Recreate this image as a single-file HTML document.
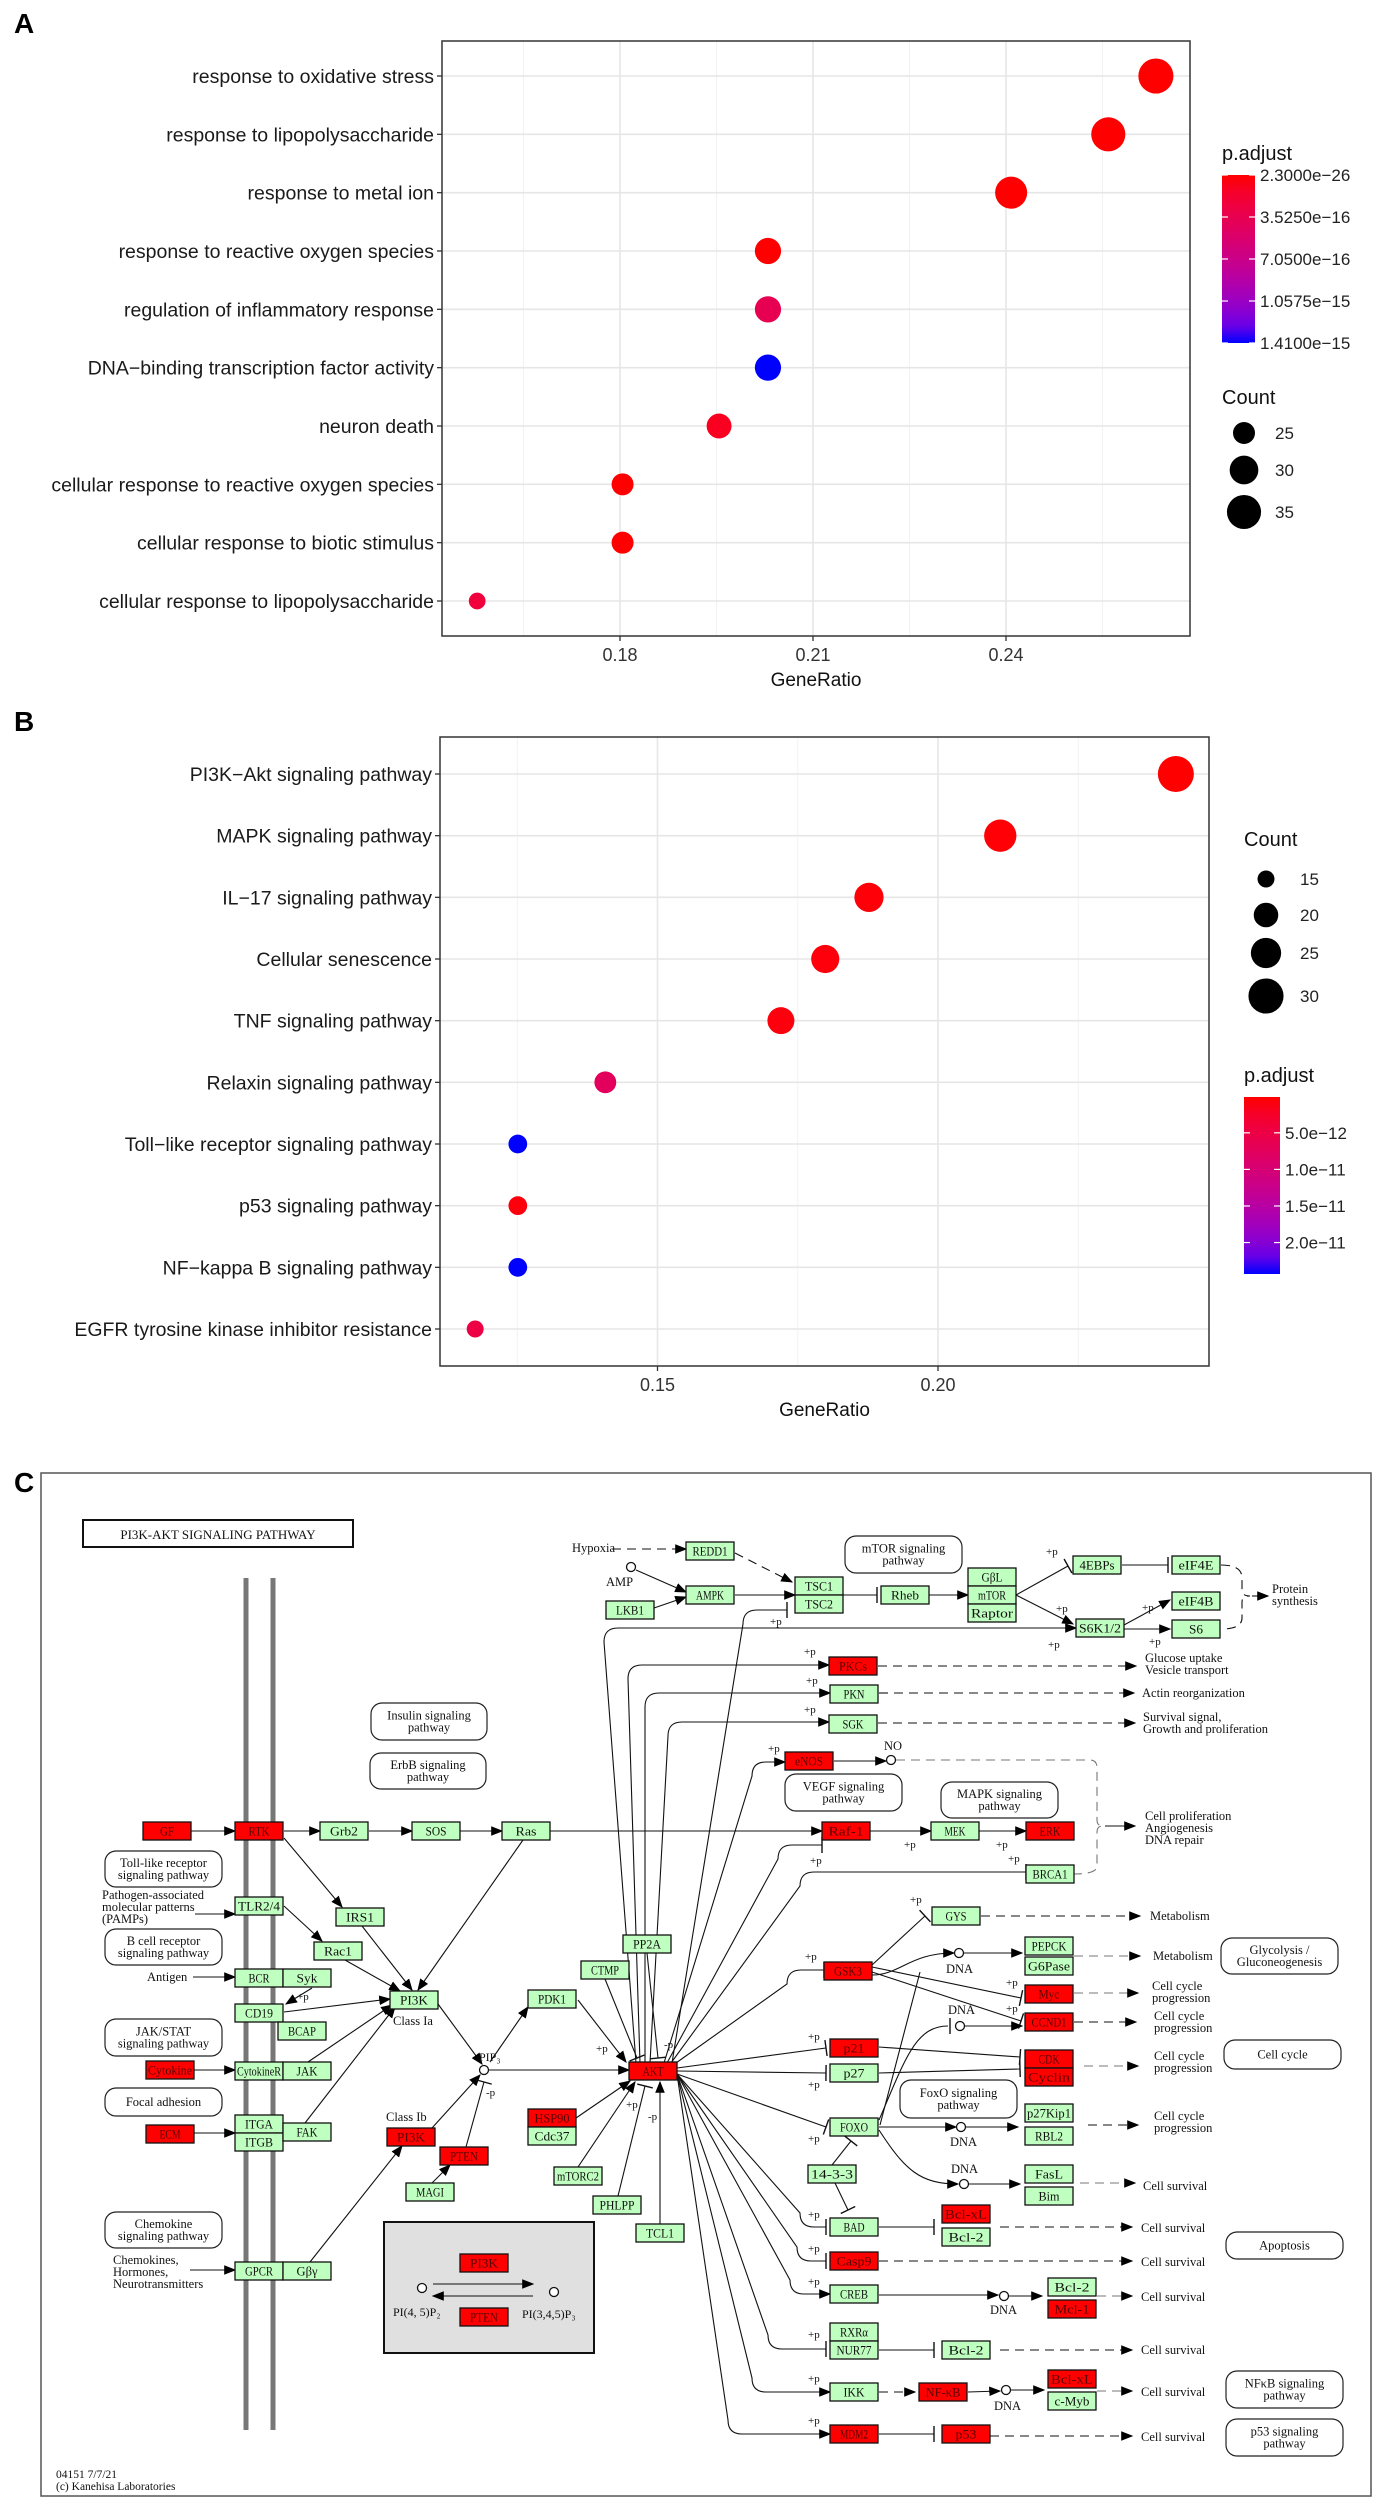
<!DOCTYPE html>
<html><head><meta charset="utf-8"><title>Enrichment dot plots and PI3K-Akt pathway</title>
<style>
html,body{margin:0;padding:0;background:#fff;}
svg{display:block;}
.sans{font-family:"Liberation Sans",Arial,sans-serif;}
.serif{font-family:"Liberation Serif","Times New Roman",serif;}
</style></head>
<body>
<svg id="fig" xmlns="http://www.w3.org/2000/svg" width="1377" height="2500" viewBox="0 0 1377 2500">
<defs>
<marker id="arr" viewBox="0 0 10 10" refX="9" refY="5" markerWidth="7" markerHeight="7" orient="auto-start-reverse" markerUnits="userSpaceOnUse"><path d="M0,0 L10,5 L0,10 z" fill="#000"/></marker>
<marker id="arrS" viewBox="0 0 10 10" refX="9" refY="5" markerWidth="12" markerHeight="12" orient="auto" markerUnits="userSpaceOnUse"><path d="M0,1 L10,5 L0,9 z" fill="#000"/></marker>
<linearGradient id="gradA" x1="0" y1="0" x2="0" y2="1"></linearGradient>
<linearGradient id="gradB" x1="0" y1="0" x2="0" y2="1"></linearGradient>
</defs>
<rect x="0" y="0" width="1377" height="2500" fill="#fff"/>
<text x="14" y="33" class="sans" font-size="28" font-weight="bold">A</text>
<text x="14" y="731" class="sans" font-size="28" font-weight="bold">B</text>
<text x="14" y="1492" class="sans" font-size="28" font-weight="bold">C</text>
<g id="chartA"></g>
<g id="chartB"></g>
<g id="diagram"></g>
</svg>
<script>
// ===== Chart A data =====
const termsA = ["response to oxidative stress","response to lipopolysaccharide","response to metal ion","response to reactive oxygen species","regulation of inflammatory response","DNA\u2212binding transcription factor activity","neuron death","cellular response to reactive oxygen species","cellular response to biotic stimulus","cellular response to lipopolysaccharide"];
const ratioA = [0.2633,0.2559,0.2408,0.2030,0.2030,0.2030,0.1954,0.1804,0.1804,0.1578];
const countA = [36,35,33,28,28,28,27,25,25,22];
const padjA = [2.3e-26,1e-20,1e-19,2e-18,3.6e-16,1.41e-15,1.0e-16,1e-18,1e-18,2.4e-16];
const ticksA = [0.18,0.21,0.24];
const tickLabelsA = ["0.18","0.21","0.24"];
const minorA = [0.165,0.195,0.225,0.255];
const legCountA = [25,30,35];
const legPA = ["2.3000e\u221226","3.5250e\u221216","7.0500e\u221216","1.0575e\u221215","1.4100e\u221215"];
const legPAval = [2.3e-26,3.525e-16,7.05e-16,1.0575e-15,1.41e-15];
// ===== Chart B data =====
const termsB = ["PI3K\u2212Akt signaling pathway","MAPK signaling pathway","IL\u221217 signaling pathway","Cellular senescence","TNF signaling pathway","Relaxin signaling pathway","Toll\u2212like receptor signaling pathway","p53 signaling pathway","NF\u2212kappa B signaling pathway","EGFR tyrosine kinase inhibitor resistance"];
const ratioB = [0.2424,0.2111,0.1877,0.1799,0.1720,0.1407,0.1251,0.1251,0.1251,0.1175];
const countB = [31,27,24,23,22,18,16,16,16,15];
const padjB = [1e-13,3e-13,4e-13,5e-13,6e-13,7.5e-12,2.43e-11,5e-13,2.43e-11,5e-12];
const ticksB = [0.15,0.20];
const tickLabelsB = ["0.15","0.20"];
const minorB = [0.125,0.175,0.225];
const legCountB = [15,20,25,30];
const legPB = ["5.0e\u221212","1.0e\u221211","1.5e\u221211","2.0e\u221211"];
const legPBval = [5e-12,1e-11,1.5e-11,2e-11];

const NS = "http://www.w3.org/2000/svg";
function mk(tag, parent, attrs, txt){
  const el = document.createElementNS(NS, tag);
  for (const k in attrs) el.setAttribute(k, attrs[k]);
  if (txt !== undefined) el.textContent = txt;
  parent.appendChild(el);
  return el;
}
function lin(c){c/=255;return c<=0.04045?c/12.92:Math.pow((c+0.055)/1.055,2.4);}
function unlin(c){c=c<=0.0031308?12.92*c:1.055*Math.pow(c,1/2.4)-0.055;return Math.max(0,Math.min(255,Math.round(c*255)));}
function toLab(r,g,b){r=lin(r);g=lin(g);b=lin(b);
  let X=(0.4124*r+0.3576*g+0.1805*b)/0.95047,Y=0.2126*r+0.7152*g+0.0722*b,Z=(0.0193*r+0.1192*g+0.9505*b)/1.08883;
  const f=t=>t>0.008856?Math.cbrt(t):7.787*t+16/116;
  const fx=f(X),fy=f(Y),fz=f(Z);return [116*fy-16,500*(fx-fy),200*(fy-fz)];}
function fromLab(L,a,b){const fy=(L+16)/116,fx=fy+a/500,fz=fy-b/200;
  const fi=t=>t>0.206893?t*t*t:(t-16/116)/7.787;
  const X=fi(fx)*0.95047,Y=fi(fy),Z=fi(fz)*1.08883;
  const r=3.2406*X-1.5372*Y-0.4986*Z,g=-0.9689*X+1.8758*Y+0.0415*Z,bb=0.0557*X-0.2040*Y+1.0570*Z;
  return "rgb("+unlin(r)+","+unlin(g)+","+unlin(bb)+")";}
const LR=toLab(255,0,0),LB=toLab(0,0,255);
function col(t){t=Math.max(0,Math.min(1,t));return fromLab(LR[0]+(LB[0]-LR[0])*t,LR[1]+(LB[1]-LR[1])*t,LR[2]+(LB[2]-LR[2])*t);}
function fillGrad(id){const g=document.getElementById(id);for(let i=0;i<=10;i++){mk("stop",g,{offset:(i/10),"stop-color":col(i/10)});}}
fillGrad("gradA");fillGrad("gradB");

function drawDot(cfg){
  const G=document.getElementById(cfg.gid);
  const {L,R,T,B}=cfg.box;
  const n=cfg.terms.length;
  const unit=(B-T)/(n-1+1.2);
  const y=i=>T+(0.6+i)*unit;
  const x=v=>cfg.x0+(v-cfg.v0)/cfg.dv*cfg.px;
  const rad=c=>Math.sqrt(Math.max(4,cfg.r2a+cfg.r2b*(c-cfg.c0)));
  const pmax=cfg.pmax,pmin=cfg.pmin;
  const tcol=p=>col((p-pmin)/(pmax-pmin));
  const bg=mk("rect",G,{x:L,y:T,width:R-L,height:B-T,fill:"#fff"});
  
  
  cfg.minor.forEach(v=>{const l=mk("line",G,{x1:x(v),x2:x(v),y1:T,y2:B,stroke:"#f2f2f2","stroke-width":1});
    
    });
  cfg.ticks.forEach(v=>{const l=mk("line",G,{x1:x(v),x2:x(v),y1:T,y2:B,stroke:"#e6e6e6","stroke-width":1.6});
    
    });
  cfg.terms.forEach((t,i)=>{const l=mk("line",G,{x1:L,x2:R,y1:y(i),y2:y(i),stroke:"#e6e6e6","stroke-width":1.6});
    
    
    const tk=mk("line",G,{x1:L-5,x2:L,y1:y(i),y2:y(i),stroke:"#333","stroke-width":1.3});
    
    
    const lb=mk("text",G,{x:L-8,y:y(i)+7,"text-anchor":"end","font-size":19.5,fill:"#1a1a1a",class:"sans"},t);
    
    });
  cfg.terms.forEach((t,i)=>{const c=mk("circle",G,{cx:x(cfg.ratio[i]),cy:y(i),r:rad(cfg.count[i]),fill:tcol(cfg.padj[i])});
    
    });
  const bx=mk("rect",G,{x:L,y:T,width:R-L,height:B-T,fill:"none",stroke:"#333","stroke-width":1.5});
  
  
  cfg.ticks.forEach((v,i)=>{const tk=mk("line",G,{x1:x(v),x2:x(v),y1:B,y2:B+5,stroke:"#333","stroke-width":1.3});
    
    
    const lb=mk("text",G,{x:x(v),y:B+25,"text-anchor":"middle","font-size":18,fill:"#333",class:"sans"},cfg.tickLabels[i]);
    
    });
  const xt=mk("text",G,{x:(L+R)/2,y:B+50,"text-anchor":"middle","font-size":19,fill:"#111",class:"sans"},"GeneRatio");
  
  
  const cl=cfg.colLeg;
  const ct=mk("text",G,{x:cl.x,y:cl.titleY,"font-size":20,fill:"#111",class:"sans"},"p.adjust");
  
  
  const cb=mk("rect",G,{x:cl.x,y:cl.top,width:cl.w,height:cl.bot-cl.top,fill:"url(#"+cl.grad+")"});
  
  
  cfg.legP.forEach((s,i)=>{const t=(cfg.legPval[i]-pmin)/(pmax-pmin);const yy=cl.top+t*(cl.bot-cl.top);
    const a=mk("line",G,{x1:cl.x,x2:cl.x+6,y1:yy,y2:yy,stroke:"#fff","stroke-width":1.2});
    
    
    const b=mk("line",G,{x1:cl.x+cl.w-6,x2:cl.x+cl.w,y1:yy,y2:yy,stroke:"#fff","stroke-width":1.2});
    
    
    const lb=mk("text",G,{x:cl.x+cl.w+5,y:yy+6,"font-size":17,fill:"#222",class:"sans"},s);
    
    });
  const sl=cfg.sizeLeg;
  const st=mk("text",G,{x:sl.titleX,y:sl.titleY,"font-size":20,fill:"#111",class:"sans"},"Count");
  
  
  cfg.legCount.forEach((c,i)=>{const yy=sl.ys[i];
    const d=mk("circle",G,{cx:sl.cx,cy:yy,r:rad(c),fill:"#000"});
    
    
    const lb=mk("text",G,{x:sl.lx,y:yy+6,"font-size":17,fill:"#222",class:"sans"},String(c));
    
    });
}
drawDot({gid:"chartA",box:{L:442,R:1190,T:41,B:636},terms:termsA,ratio:ratioA,count:countA,padj:padjA,
  x0:620,v0:0.18,dv:0.03,px:193,r2a:121,r2b:17,c0:25,pmin:2.3e-26,pmax:1.41e-15,
  ticks:ticksA,tickLabels:tickLabelsA,minor:minorA,legCount:legCountA,legP:legPA,legPval:legPAval,
  colLeg:{x:1222,w:33,top:175,bot:343,titleY:160,grad:"gradA"},
  sizeLeg:{titleX:1222,titleY:404,cx:1244,lx:1275,ys:[433,470,512]}});
drawDot({gid:"chartB",box:{L:440,R:1209,T:737,B:1366},terms:termsB,ratio:ratioB,count:countB,padj:padjB,
  x0:657.5,v0:0.15,dv:0.05,px:280.5,r2a:72,r2b:15.75,c0:15,pmin:1e-13,pmax:2.43e-11,
  ticks:ticksB,tickLabels:tickLabelsB,minor:minorB,legCount:legCountB,legP:legPB,legPval:legPBval,
  colLeg:{x:1244,w:36,top:1097,bot:1274,titleY:1082,grad:"gradB"},
  sizeLeg:{titleX:1244,titleY:846,cx:1266,lx:1300,ys:[879,915,953,996]}});

// ===== Pathway diagram =====
const D=document.getElementById("diagram");
function box(x,y,w,h,label,red,name){
  const r=mk("rect",D,{x:x,y:y,width:w,height:h,fill:red?"#ff0000":"#bfffbf",stroke:"#111","stroke-width":1.3});
  
  
  const t=mk("text",D,{x:x+w/2,y:y+h/2+4.5,"text-anchor":"middle","font-size":13,fill:red?"#5a0000":"#111",class:"serif",textLength:Math.min(w-4,label.length*7),lengthAdjust:"spacingAndGlyphs"},label);
  
  
}
function rbox(x,y,w,h,lines,name){
  const r=mk("rect",D,{x:x,y:y,width:w,height:h,rx:11,ry:11,fill:"#fff",stroke:"#222","stroke-width":1.2});
  
  
  const n=lines.length;
  lines.forEach((s,i)=>{const t=mk("text",D,{x:x+w/2,y:y+h/2+4+(i-(n-1)/2)*12,"text-anchor":"middle","font-size":12.5,fill:"#111",class:"serif"},s);
    
    });
}
function txt(x,y,s,size,anchor,name){
  const t=mk("text",D,{x:x,y:y,"font-size":size||12.5,"text-anchor":anchor||"start",fill:"#111",class:"serif"},s);
  
  
}
function path(d,opt,name){
  opt=opt||{};
  const a={d:d,fill:"none",stroke:opt.gray?"#777":"#111","stroke-width":opt.w||1.1};
  if(opt.dash) a["stroke-dasharray"]="9,6";
  if(opt.arrow) a["marker-end"]="url(#arrS)";
  const p=mk("path",D,a);
  
  
  return p;
}
function ln(x1,y1,x2,y2,opt,name){
  opt=opt||{};
  path("M"+x1+" "+y1+" L"+x2+" "+y2,opt,name);
  if(opt.tee){const dx=x2-x1,dy=y2-y1,L=Math.hypot(dx,dy),nx=-dy/L*8,ny=dx/L*8;
    path("M"+(x2+nx)+" "+(y2+ny)+" L"+(x2-nx)+" "+(y2-ny),{w:1.4},"inhibition-bar");}
}
function teeAt(x,y,vertical){ if(vertical) path("M"+x+" "+(y-8)+" L"+x+" "+(y+8),{w:1.4},"inhibition-bar"); else path("M"+(x-8)+" "+y+" L"+(x+8)+" "+y,{w:1.4},"inhibition-bar"); }
function circ(x,y,name){const c=mk("circle",D,{cx:x,cy:y,r:4.5,fill:"#fff",stroke:"#111","stroke-width":1.3});
  
  }

const fr=mk("rect",D,{x:41,y:1473,width:1330,height:1023,fill:"none",stroke:"#555","stroke-width":1.5});


const tb=mk("rect",D,{x:83,y:1520,width:270,height:27,fill:"#fff",stroke:"#111","stroke-width":2});


txt(218,1539,"PI3K-AKT  SIGNALING  PATHWAY",13,"middle","diagram-title");
path("M246 1578 L246 2430",{gray:true,w:5},"membrane-line");
path("M273 1578 L273 2430",{gray:true,w:5},"membrane-line");

const gb=mk("rect",D,{x:384,y:2222,width:210,height:131,fill:"#e0e0e0",stroke:"#111","stroke-width":2});



ln(191,1831,235,1831,{arrow:1});ln(284,1831,320,1831,{arrow:1});ln(369,1831,412,1831,{arrow:1});ln(460,1831,502,1831,{arrow:1});
ln(550,1831,822,1831,{arrow:1},"ras-raf-edge");
ln(284,1838,342,1907,{arrow:1});ln(362,1926,412,1990,{arrow:1});ln(284,1906,322,1941,{arrow:1});ln(345,1960,400,1991,{arrow:1});
ln(523,1840,418,1990,{arrow:1});ln(284,2012,390,1999,{arrow:1});ln(308,2062,392,2005,{arrow:1});ln(305,2123,395,2007,{arrow:1});
ln(312,1988,286,2004,{arrow:1});txt(297,2000,"+p",11);
ln(195,1914,235,1914,{arrow:1});ln(193,1977,235,1977,{arrow:1});ln(194,2070,235,2070,{arrow:1});ln(194,2133,235,2133,{arrow:1});ln(190,2270,235,2270,{arrow:1});
ln(438,2004,482,2064,{arrow:1});ln(432,2128,480,2075,{arrow:1});ln(310,2262,402,2146,{arrow:1});ln(432,2183,450,2165,{arrow:1});
ln(466,2147,484,2082,{tee:1});txt(486,2096,"-p",11);
ln(490,2062,528,2007,{arrow:1});ln(578,2000,626,2062,{arrow:1});txt(596,2052,"+p",11);
ln(489,2070,629,2070,{arrow:1});ln(576,2118,630,2081,{arrow:1});ln(578,2167,635,2082,{arrow:1});txt(626,2108,"+p",11);
ln(618,2196,645,2086,{tee:1});txt(648,2120,"-p",11);
ln(660,2224,660,2082,{arrow:1});ln(647,1953,658,2058,{tee:1});txt(664,2048,"-p",11);ln(605,1979,637,2058,{tee:1});
ln(433,2284,533,2284,{arrow:1});ln(533,2296,433,2296,{arrow:1});
circ(422,2288);circ(554,2292);
txt(393,2316,"PI(4, 5)P\u2082",12);txt(522,2318,"PI(3,4,5)P\u2083",12);

function up(sx,cx,cy,ex,arrowEnd,name){path("M"+sx+" 2063 L"+cx+" "+(cy+14)+" Q"+cx+" "+cy+" "+(cx+14)+" "+cy+" L"+ex+" "+cy,{arrow:arrowEnd},name);
  if(!arrowEnd) teeAt(ex,cy,true);}
up(636,604,1628,1076,true,"akt-s6k-edge");txt(1048,1648,"+p",11);
up(672,743,1610,787,false,"akt-tsc2-edge");txt(770,1625,"+p",11);
up(640,628,1665,829,true,"akt-pkcs-edge");txt(804,1655,"+p",11);
up(645,645,1693,830,true,"akt-pkn-edge");txt(806,1684,"+p",11);
up(650,668,1722,829,true,"akt-sgk-edge");txt(804,1713,"+p",11);
up(664,752,1762,785,true,"akt-enos-edge");txt(768,1752,"+p",11);
up(667,778,1845,822,false,"akt-raf-edge");txt(810,1864,"+p",11);
up(671,800,1872,1026,false,"akt-brca1-edge");txt(1008,1862,"+p",11);
up(676,787,1970,824,false,"akt-gsk3-edge");txt(805,1960,"+p",11);
ln(677,2068,826,2048,{tee:1});txt(808,2040,"+p",11);
ln(677,2071,826,2073,{tee:1});txt(808,2088,"+p",11);
ln(677,2074,826,2127,{tee:1});txt(808,2142,"+p",11);
function down(cx,cy,ex,arrowEnd,name){path("M677 2074 L"+cx+" "+(cy-14)+" Q"+cx+" "+cy+" "+(cx+14)+" "+cy+" L"+ex+" "+cy,{arrow:arrowEnd},name);
  if(!arrowEnd) teeAt(ex,cy,true);}
down(800,2227,826,false,"akt-bad-edge");txt(808,2218,"+p",11);
down(797,2261,826,false,"akt-casp9-edge");txt(808,2252,"+p",11);
down(790,2294,830,true,"akt-creb-edge");txt(808,2285,"+p",11);
down(768,2349,826,false,"akt-nur77-edge");txt(808,2338,"+p",11);
down(752,2392,830,true,"akt-ikk-edge");txt(808,2382,"+p",11);
down(728,2434,830,true,"akt-mdm2-edge");txt(808,2424,"+p",11);

txt(572,1552,"Hypoxia",12.5);ln(612,1549,686,1549,{dash:1,arrow:1});
ln(735,1553,792,1582,{dash:1,arrow:1});
circ(631,1567);txt(606,1586,"AMP",12.5);ln(636,1570,686,1592,{arrow:1});ln(654,1608,686,1597,{arrow:1});
ln(735,1595,795,1595,{arrow:1});ln(843,1595,877,1595,{tee:1});ln(929,1595,968,1595,{arrow:1});
ln(1016,1595,1068,1566,{tee:1});txt(1046,1555,"+p",11);
ln(1016,1595,1073,1624,{arrow:1});txt(1056,1612,"+p",11);
ln(1122,1565,1168,1565,{tee:1});ln(1124,1625,1170,1600,{arrow:1});txt(1142,1611,"+p",11);
ln(1124,1629,1170,1629,{arrow:1});txt(1149,1645,"+p",11);
path("M1221 1565 Q1242 1565 1242 1578 L1242 1590 Q1242 1596 1250 1596 Q1242 1596 1242 1602 L1242 1618 Q1242 1629 1221 1629",{dash:1},"protein-synthesis-brace");
ln(1252,1596,1268,1596,{arrow:1});txt(1272,1593,"Protein",12.5);txt(1272,1605,"synthesis",12.5);
ln(878,1666,1136,1666,{dash:1,arrow:1});txt(1145,1662,"Glucose uptake",12.5);txt(1145,1674,"Vesicle transport",12.5);
ln(879,1693,1134,1693,{dash:1,arrow:1});txt(1142,1697,"Actin reorganization",12.5);
ln(878,1723,1135,1723,{dash:1,arrow:1});txt(1143,1721,"Survival signal,",12.5);txt(1143,1733,"Growth and proliferation",12.5);
ln(834,1761,886,1761,{arrow:1});circ(891,1760);txt(884,1750,"NO",12.5);
path("M896 1760 L1090 1760 Q1097 1760 1097 1768 L1097 1820 Q1097 1826 1103 1826 Q1097 1826 1097 1832 L1097 1866 Q1097 1874 1074 1874",{dash:1,gray:true},"proliferation-brace");
ln(1105,1826,1135,1826,{arrow:1});txt(1145,1820,"Cell proliferation",12.5);txt(1145,1832,"Angiogenesis",12.5);txt(1145,1844,"DNA repair",12.5);
ln(870,1831,931,1831,{arrow:1});txt(904,1848,"+p",11);ln(979,1831,1026,1831,{arrow:1});txt(996,1848,"+p",11);
ln(872,1965,925,1916,{tee:1});txt(910,1903,"+p",11);
ln(981,1916,1140,1916,{dash:1,arrow:1});txt(1150,1920,"Metabolism",12.5);
path("M872 1975 C900 1975 910 1953 954 1953",{arrow:1},"gsk3-dna-edge");circ(959,1953);ln(964,1953,1022,1953,{arrow:1});txt(946,1973,"DNA",12.5);
ln(1074,1956,1140,1956,{dash:1,gray:1,arrow:1});txt(1153,1960,"Metabolism",12.5);
ln(872,1967,1021,1998,{tee:1});txt(1006,1986,"+p",11);ln(872,1972,1021,2021,{tee:1});txt(1006,2012,"+p",11);
path("M879 2120 C905 2060 915 2026 948 2026",{},"foxo-dna-edge");teeAt(950,2026,true);circ(960,2026);ln(965,2026,1022,2026,{arrow:1});txt(948,2014,"DNA",12.5);
ln(880,2125,920,1972,{},"foxo-gsk3-edge");
ln(879,2047,1020,2057,{tee:1});ln(879,2073,1020,2069,{tee:1});
ln(879,2127,956,2127,{arrow:1});circ(961,2127);ln(966,2127,1018,2127,{arrow:1});txt(950,2146,"DNA",12.5);
path("M879 2130 C905 2170 920 2184 958 2184",{arrow:1},"foxo-fasl-edge");circ(964,2184);ln(969,2184,1020,2184,{arrow:1});txt(951,2173,"DNA",12.5);
ln(832,2165,851,2141,{tee:1});ln(835,2183,848,2210,{tee:1});
ln(879,2227,934,2227,{tee:1});ln(1000,2227,1132,2227,{dash:1,arrow:1});txt(1141,2232,"Cell survival",12.5);
ln(879,2261,1132,2261,{dash:1,arrow:1});txt(1141,2266,"Cell survival",12.5);
ln(879,2295,998,2295,{arrow:1});circ(1004,2296);ln(1009,2296,1042,2296,{arrow:1});txt(990,2314,"DNA",12.5);
ln(1097,2296,1132,2296,{dash:1,gray:1,arrow:1});txt(1141,2301,"Cell survival",12.5);
ln(879,2350,934,2350,{tee:1});ln(1000,2350,1132,2350,{dash:1,arrow:1});txt(1141,2354,"Cell survival",12.5);
ln(879,2392,915,2392,{dash:1,arrow:1});ln(968,2392,1000,2391,{arrow:1});circ(1006,2390);ln(1011,2390,1044,2390,{arrow:1});txt(994,2410,"DNA",12.5);
ln(1097,2391,1132,2391,{dash:1,gray:1,arrow:1});txt(1141,2396,"Cell survival",12.5);
ln(879,2434,934,2434,{tee:1});ln(990,2436,1132,2436,{dash:1,arrow:1});txt(1141,2441,"Cell survival",12.5);
ln(1074,1993,1138,1993,{dash:1,gray:1,arrow:1});txt(1152,1990,"Cell cycle",12.5);txt(1152,2002,"progression",12.5);
ln(1074,2022,1136,2022,{dash:1,arrow:1});txt(1154,2020,"Cell cycle",12.5);txt(1154,2032,"progression",12.5);
ln(1084,2066,1138,2066,{dash:1,gray:1,arrow:1});txt(1154,2060,"Cell cycle",12.5);txt(1154,2072,"progression",12.5);
ln(1088,2125,1138,2125,{dash:1,arrow:1});txt(1154,2120,"Cell cycle",12.5);txt(1154,2132,"progression",12.5);
ln(1080,2183,1135,2183,{dash:1,gray:1,arrow:1});txt(1143,2190,"Cell survival",12.5);

const W=48,H=18;
box(143,1822,W,H,"GF",1,"gf-node");box(235,1822,W,H,"RTK",1,"rtk-node");box(320,1822,W,H,"Grb2",0,"grb2-node");box(412,1822,W,H,"SOS",0,"sos-node");box(502,1822,W,H,"Ras",0,"ras-node");
box(235,1897,W,H,"TLR2/4",0,"tlr24-node");box(336,1908,W,H,"IRS1",0,"irs1-node");box(314,1942,W,H,"Rac1",0,"rac1-node");
box(235,1969,W,H,"BCR",0,"bcr-node");box(283,1969,W,H,"Syk",0,"syk-node");box(235,2004,W,H,"CD19",0,"cd19-node");box(278,2022,W,H,"BCAP",0,"bcap-node");
box(146,2061,W,H,"Cytokine",1,"cytokine-node");box(235,2062,W,H,"CytokineR",0,"cytokiner-node");box(283,2062,W,H,"JAK",0,"jak-node");
box(146,2125,W,H,"ECM",1,"ecm-node");box(235,2115,W,H,"ITGA",0,"itga-node");box(235,2133,W,H,"ITGB",0,"itgb-node");box(283,2123,W,H,"FAK",0,"fak-node");
box(235,2262,W,H,"GPCR",0,"gpcr-node");box(283,2262,W,H,"G\u03b2\u03b3",0,"gbg-node");
box(390,1991,W,H,"PI3K",0,"pi3k-class1a-node");txt(393,2025,"Class Ia",12.5);
box(528,1990,W,H,"PDK1",0,"pdk1-node");circ(484,2070,"pip3");txt(479,2061,"PIP\u2083",12);
box(629,2062,W,H,"AKT",1,"akt-node");
txt(386,2121,"Class Ib",12.5);box(387,2128,W,H,"PI3K",1,"pi3k-class1b-node");box(440,2147,W,H,"PTEN",1,"pten-node");box(406,2183,W,H,"MAGI",0,"magi-node");
box(528,2109,W,H,"HSP90",1,"hsp90-node");box(528,2127,W,H,"Cdc37",0,"cdc37-node");box(554,2167,W,H,"mTORC2",0,"mtorc2-node");box(593,2196,W,H,"PHLPP",0,"phlpp-node");box(636,2224,W,H,"TCL1",0,"tcl1-node");
box(623,1935,W,H,"PP2A",0,"pp2a-node");box(581,1961,W,H,"CTMP",0,"ctmp-node");
box(460,2254,W,H,"PI3K",1,"box-pi3k-node");box(460,2308,W,H,"PTEN",1,"box-pten-node");
box(686,1542,W,H,"REDD1",0,"redd1-node");box(686,1586,W,H,"AMPK",0,"ampk-node");box(606,1601,W,H,"LKB1",0,"lkb1-node");
box(795,1577,W,H,"TSC1",0,"tsc1-node");box(795,1595,W,H,"TSC2",0,"tsc2-node");box(881,1586,W,H,"Rheb",0,"rheb-node");
box(968,1568,W,H,"G\u03b2L",0,"gbl-node");box(968,1586,W,H,"mTOR",0,"mtor-node");box(968,1604,W,H,"Raptor",0,"raptor-node");
box(1073,1556,W,H,"4EBPs",0,"4ebps-node");box(1172,1556,W,H,"eIF4E",0,"eif4e-node");box(1172,1592,W,H,"eIF4B",0,"eif4b-node");
box(1076,1619,W,H,"S6K1/2",0,"s6k-node");box(1172,1620,W,H,"S6",0,"s6-node");
box(829,1657,W,H,"PKCs",1,"pkcs-node");box(830,1685,W,H,"PKN",0,"pkn-node");box(829,1715,W,H,"SGK",0,"sgk-node");
box(785,1752,W,H,"eNOS",1,"enos-node");
box(822,1822,W,H,"Raf-1",1,"raf1-node");box(931,1822,W,H,"MEK",0,"mek-node");box(1026,1822,W,H,"ERK",1,"erk-node");box(1026,1865,W,H,"BRCA1",0,"brca1-node");
box(932,1907,W,H,"GYS",0,"gys-node");box(824,1962,W,H,"GSK3",1,"gsk3-node");
box(1025,1937,W,H,"PEPCK",0,"pepck-node");box(1025,1957,W,H,"G6Pase",0,"g6pase-node");
box(1025,1985,W,H,"Myc",1,"myc-node");box(1025,2013,W,H,"CCND1",1,"ccnd1-node");
box(830,2039,W,H,"p21",1,"p21-node");box(830,2064,W,H,"p27",0,"p27-node");
box(1025,2050,W,H,"CDK",1,"cdk-node");box(1025,2068,W,H,"Cyclin",1,"cyclin-node");
box(830,2118,W,H,"FOXO",0,"foxo-node");box(1025,2104,W,H,"p27Kip1",0,"p27kip1-node");box(1025,2127,W,H,"RBL2",0,"rbl2-node");
box(808,2165,W,H,"14-3-3",0,"14-3-3-node");box(1025,2165,W,H,"FasL",0,"fasl-node");box(1025,2187,W,H,"Bim",0,"bim-node");
box(830,2218,W,H,"BAD",0,"bad-node");box(942,2205,W,H,"Bcl-xL",1,"bclxl-node");box(942,2228,W,H,"Bcl-2",0,"bcl2-node");
box(830,2252,W,H,"Casp9",1,"casp9-node");
box(830,2285,W,H,"CREB",0,"creb-node");box(1048,2278,W,H,"Bcl-2",0,"bcl2-creb-node");box(1048,2300,W,H,"Mcl-1",1,"mcl1-node");
box(830,2323,W,H,"RXR\u03b1",0,"rxra-node");box(830,2341,W,H,"NUR77",0,"nur77-node");box(942,2341,W,H,"Bcl-2",0,"bcl2-nur77-node");
box(830,2383,W,H,"IKK",0,"ikk-node");box(919,2383,W,H,"NF-\u03baB",1,"nfkb-node");box(1048,2370,W,H,"Bcl-xL",1,"bclxl-nfkb-node");box(1048,2392,W,H,"c-Myb",0,"cmyb-node");
box(830,2425,W,H,"MDM2",1,"mdm2-node");box(942,2425,W,H,"p53",1,"p53-node");
rbox(371,1703,116,37,["Insulin signaling","pathway"],"insulin-pathway-link");
rbox(370,1753,116,36,["ErbB signaling","pathway"],"erbb-pathway-link");
rbox(105,1851,117,36,["Toll-like receptor","signaling pathway"],"toll-pathway-link");
rbox(105,1929,117,36,["B cell receptor","signaling pathway"],"bcr-pathway-link");
rbox(105,2019,117,37,["JAK/STAT","signaling pathway"],"jakstat-pathway-link");
rbox(105,2088,117,28,["Focal adhesion"],"focal-adhesion-link");
rbox(105,2212,117,36,["Chemokine","signaling pathway"],"chemokine-pathway-link");
rbox(845,1536,117,37,["mTOR signaling","pathway"],"mtor-pathway-link");
rbox(785,1774,117,37,["VEGF signaling","pathway"],"vegf-pathway-link");
rbox(941,1782,117,36,["MAPK signaling","pathway"],"mapk-pathway-link");
rbox(1221,1938,117,36,["Glycolysis /","Gluconeogenesis"],"glycolysis-link");
rbox(1224,2040,117,29,["Cell cycle"],"cell-cycle-link");
rbox(900,2080,117,38,["FoxO signaling","pathway"],"foxo-pathway-link");
rbox(1226,2232,117,27,["Apoptosis"],"apoptosis-link");
rbox(1226,2371,117,37,["NF\u03baB signaling","pathway"],"nfkb-pathway-link");
rbox(1226,2419,117,37,["p53 signaling","pathway"],"p53-pathway-link");
txt(102,1899,"Pathogen-associated",12.5);txt(102,1911,"molecular patterns",12.5);txt(102,1923,"(PAMPs)",12.5);
txt(147,1981,"Antigen",12.5);
txt(113,2264,"Chemokines,",12.5);txt(113,2276,"Hormones,",12.5);txt(113,2288,"Neurotransmitters",12.5);
txt(56,2478,"04151 7/7/21",11.5,"start","map-id");txt(56,2490,"(c) Kanehisa Laboratories",11.5,"start","copyright");
</script>
</body></html>
